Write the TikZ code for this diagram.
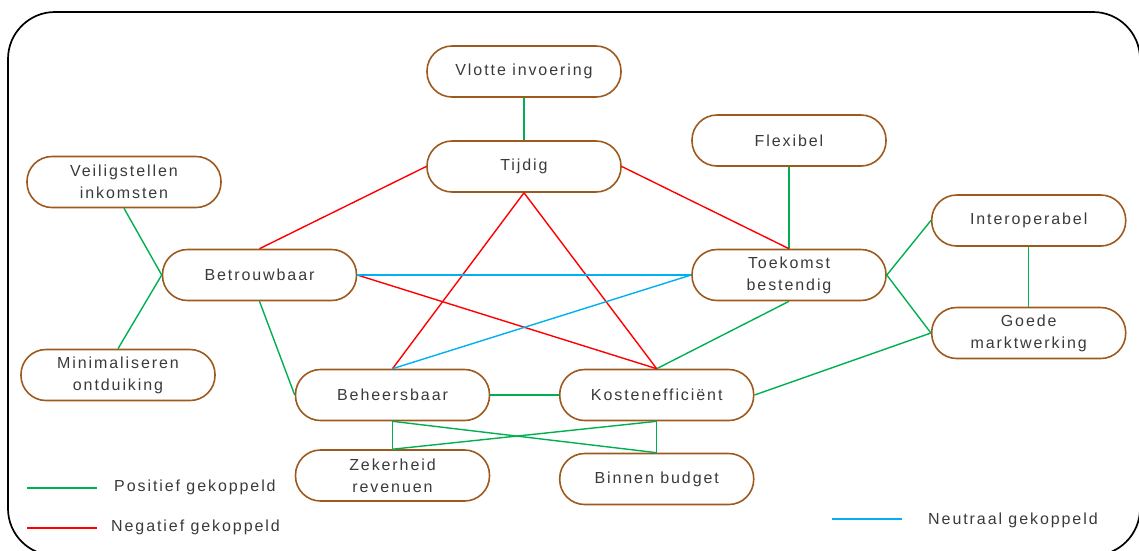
\documentclass[tikz,border=0pt]{standalone}
\usepackage{fontspec}
\setmainfont{Liberation Sans}[LetterSpace=12]
\begin{document}
\begin{tikzpicture}[x=1pt,y=-1pt,
  box/.style={draw=nodebrown, line width=1.6pt, rectangle, rounded corners=25pt,
    minimum width=194pt, minimum height=51pt, align=center, text=txtgray,
    font=\fontsize{16}{22}\selectfont, inner sep=0pt},
  poslink/.style={draw=posgreen, line width=1.4pt},
  neglink/.style={draw=negred, line width=1.4pt},
  neulink/.style={draw=neublue, line width=1.4pt},
  legtext/.style={anchor=west, text=txtgray, font=\fontsize{16}{20}\selectfont, inner sep=0pt}]
\definecolor{nodebrown}{HTML}{9E5A1E}
\definecolor{txtgray}{HTML}{3A3A3A}
\definecolor{posgreen}{HTML}{00B050}
\definecolor{negred}{HTML}{FF0000}
\definecolor{neublue}{HTML}{00B0F0}
\useasboundingbox (0,0) rectangle (1139,550);
% frame
\draw[line width=1.7pt, rounded corners=47pt] (8,12) rectangle (1140,555.5);
% nodes
\node[box] (vlot) at (524,71.5) {Vlotte invoering};
\node[box] (tijd) at (524,166.5) {Tijdig};
\node[box] (flex) at (789,140.5) {Flexibel};
\node[box] (veil) at (124,182) {Veiligstellen\\inkomsten};
\node[box] (betr) at (259.5,275) {Betrouwbaar};
\node[box] (mini) at (118,375) {Minimaliseren\\ontduiking};
\node[box] (behe) at (392.5,395) {Beheersbaar};
\node[box] (kost) at (656.7,395) {Kostenefficiënt};
\node[box] (zeke) at (392.5,475.5) {Zekerheid\\revenuen};
\node[box] (binn) at (656.7,479) {Binnen budget};
\node[box] (toek) at (789,275) {Toekomst\\bestendig};
\node[box] (inte) at (1028.7,220.5) {Interoperabel};
\node[box] (goed) at (1028.7,333) {Goede\\marktwerking};
% positive links
\draw[poslink] (vlot.south) -- (tijd.north);
\draw[poslink] (flex.south) -- (toek.north);
\draw[poslink] (veil.south) -- (betr.west);
\draw[poslink] (mini.north) -- (betr.west);
\draw[poslink] (betr.south) -- (behe.west);
\draw[poslink, line width=1.6pt] (behe.east) -- (kost.west);
\draw[poslink] (toek.south) -- (kost.north);
\draw[poslink] (toek.east) -- (inte.west);
\draw[poslink] (toek.east) -- (goed.west);
\draw[poslink] (inte.south) -- (goed.north);
\draw[poslink] (goed.west) -- (kost.east);
\draw[poslink] (behe.south) -- (zeke.north);
\draw[poslink] (kost.south) -- (binn.north);
\draw[poslink] (behe.south) -- (binn.north);
\draw[poslink] (kost.south) -- (zeke.north);
% negative links
\draw[neglink] (tijd.west) -- (betr.north);
\draw[neglink] (tijd.east) -- (toek.north);
\draw[neglink] (tijd.south) -- (behe.north);
\draw[neglink] (tijd.south) -- (kost.north);
\draw[neglink] (betr.east) -- (kost.north);
% neutral links
\draw[neulink] (betr.east) -- (toek.west);
\draw[neulink] (behe.north) -- (toek.west);
% legend
\coordinate (lg1a) at (27,488);
\coordinate (lg1b) at (97,488);
\coordinate (lg2a) at (27,528);
\coordinate (lg2b) at (97,528);
\coordinate (lg3a) at (832,519);
\coordinate (lg3b) at (902,519);
\draw[poslink] (lg1a) -- (lg1b);
\draw[neglink] (lg2a) -- (lg2b);
\draw[neulink] (lg3a) -- (lg3b);
\node[legtext] (lt1) at (114,487) {Positief gekoppeld};
\node[legtext] (lt2) at (111,527) {Negatief gekoppeld};
\node[legtext] (lt3) at (928,520) {Neutraal gekoppeld};
\end{tikzpicture}
\end{document}
